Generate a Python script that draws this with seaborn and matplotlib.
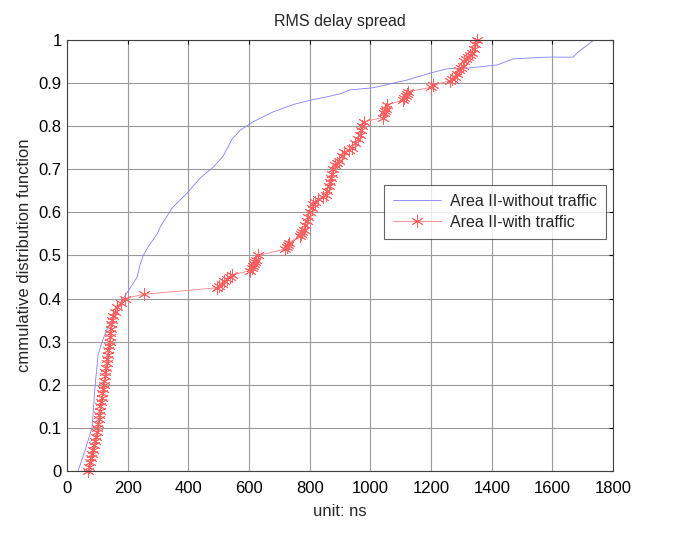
import numpy as np
import pandas as pd
import matplotlib
matplotlib.use("Agg")
import matplotlib.pyplot as plt
import seaborn as sns

sns.set_style("white")
plt.rcParams["font.family"] = ["Liberation Sans", "DejaVu Sans"]

# blue curve: Area II without traffic
blue_x = [36, 60, 82, 92, 102, 115, 132, 148, 185, 208, 231, 241, 251, 267, 297,
          307, 346, 396, 439, 482, 514, 544, 570, 613, 679, 745, 801, 857, 900,
          933, 1009, 1121, 1197, 1253, 1329, 1418, 1471, 1583, 1668, 1685, 1734, 1750]
blue_y = [0.0, 0.05, 0.10, 0.195, 0.27, 0.30, 0.33, 0.35, 0.40, 0.425, 0.45, 0.48,
          0.50, 0.52, 0.55, 0.566, 0.61, 0.645, 0.68, 0.705, 0.73, 0.77, 0.79, 0.81,
          0.833, 0.85, 0.86, 0.868, 0.875, 0.884, 0.889, 0.907, 0.923, 0.933, 0.935,
          0.942, 0.956, 0.96, 0.96, 0.972, 0.998, 1.0]

# red curve: Area II with traffic
red_x = [70, 73, 77, 80, 83, 86, 89, 92, 95, 98, 100, 102, 104, 106, 108, 110, 112,
         114, 116, 118, 120, 122, 124, 126, 128, 130, 132, 134, 136, 138, 140, 141,
         142, 143, 145, 148, 152, 158, 166, 176, 190, 252,
         494, 502, 510, 518, 528, 536, 544,
         603, 608, 612, 616, 620, 624, 630,
         719, 724, 728, 732,
         768, 772, 776, 780, 785, 790, 795, 800, 806, 812, 818, 828, 845, 852, 858,
         862, 866, 870, 874, 878, 884, 890, 898, 906, 914, 930, 940, 950, 958, 964,
         968, 972, 978,
         1040, 1044, 1048, 1052, 1056,
         1108, 1112, 1116, 1120, 1124,
         1200, 1206,
         1262, 1270, 1278, 1286, 1292, 1298, 1304, 1310, 1316, 1322, 1328, 1334,
         1340, 1346, 1352]
red_y = [0.0, 0.01, 0.02, 0.03, 0.04, 0.05, 0.06, 0.07, 0.08, 0.09, 0.10, 0.11, 0.12,
         0.13, 0.14, 0.15, 0.16, 0.17, 0.18, 0.19, 0.20, 0.21, 0.22, 0.23, 0.24, 0.25,
         0.26, 0.27, 0.28, 0.29, 0.30, 0.31, 0.32, 0.33, 0.34, 0.35, 0.36, 0.37, 0.38,
         0.39, 0.40, 0.41,
         0.425, 0.43, 0.435, 0.44, 0.445, 0.45, 0.455,
         0.465, 0.47, 0.475, 0.48, 0.485, 0.49, 0.50,
         0.515, 0.52, 0.525, 0.53,
         0.545, 0.55, 0.555, 0.56, 0.57, 0.58, 0.59, 0.60, 0.61, 0.62, 0.625, 0.63,
         0.635, 0.64, 0.65, 0.66, 0.67, 0.68, 0.69, 0.70, 0.71, 0.715, 0.72, 0.73,
         0.74, 0.745, 0.75, 0.76, 0.77, 0.78, 0.79, 0.80, 0.81,
         0.82, 0.83, 0.835, 0.84, 0.85,
         0.86, 0.865, 0.87, 0.875, 0.88,
         0.89, 0.895,
         0.905, 0.91, 0.915, 0.92, 0.93, 0.935, 0.94, 0.95, 0.955, 0.96, 0.965, 0.97,
         0.98, 0.99, 1.0]

blue = pd.DataFrame({"x": blue_x, "y": blue_y})
red = pd.DataFrame({"x": red_x, "y": red_y})

fig = plt.figure(figsize=(6.85, 5.39), dpi=100)
ax = fig.add_axes([0.098, 0.126, 0.797, 0.8])

sns.lineplot(data=blue, x="x", y="y", ax=ax, sort=False, estimator=None,
             color="#8080ff", linewidth=0.6, label="Area II-without traffic")
sns.lineplot(data=red, x="x", y="y", ax=ax, sort=False, estimator=None,
             color="#ff8080", linewidth=0.6, marker=(6, 2, 0), markersize=9,
             markeredgecolor="#ff6060", markeredgewidth=0.6, clip_on=False,
             label="Area II-with traffic")

ax.set_xlim(0, 1800)
ax.set_ylim(0, 1)
ax.set_xticks(np.arange(0, 1801, 200))
ax.set_yticks(np.round(np.arange(0, 1.01, 0.1), 1))
ax.set_yticklabels(["0", "0.1", "0.2", "0.3", "0.4", "0.5", "0.6", "0.7", "0.8", "0.9", "1"])
ax.grid(True, color="#999999", linewidth=0.8)
ax.tick_params(direction="in", top=True, right=True, length=3, width=0.8,
               labelsize=12, colors="black", pad=4)
ax.tick_params(axis="x", pad=7)
for s in ax.spines.values():
    s.set_color("#404040")
    s.set_linewidth(0.8)

ax.set_title("RMS delay spread", fontsize=11.5, pad=10)
ax.set_xlabel("unit: ns", fontsize=12, labelpad=6)
ax.set_ylabel("cmmulative distribution function", fontsize=12, labelpad=5)

leg = ax.legend(loc="upper right", bbox_to_anchor=(0.987, 0.664), fontsize=11.5,
                frameon=True, fancybox=False, borderpad=0.55, handlelength=3.0,
                labelspacing=0.4, handletextpad=0.6, borderaxespad=0)
leg.get_frame().set_edgecolor("#404040")
leg.get_frame().set_linewidth(0.8)

fig.savefig("out.png", dpi=100)
